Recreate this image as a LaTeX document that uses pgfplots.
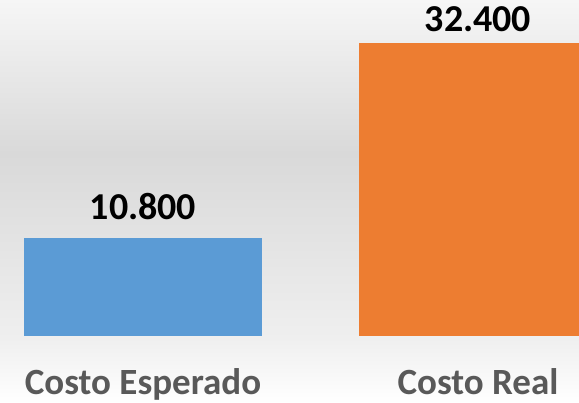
\documentclass[border=0pt]{standalone}
\usepackage{pgfplots}
\pgfplotsset{compat=1.18}
\usepackage{fontspec}
\setmainfont{Carlito}
\definecolor{barblue}{HTML}{5B9BD5}
\definecolor{barorange}{HTML}{ED7D31}
\definecolor{labelgray}{HTML}{595959}
\definecolor{bgA}{HTML}{EFEFEF}
\definecolor{bgB}{HTML}{D9D9D9}
\definecolor{bgC}{HTML}{F6F6F6}
\pgfdeclareverticalshading{bg}{100bp}{color(0bp)=(white); color(25bp)=(white); color(33bp)=(bgA); color(56bp)=(bgB); color(75bp)=(bgC); color(100bp)=(bgC)}
\begin{document}
\begin{tikzpicture}
\shade[shading=bg] (0,0) rectangle (579pt,403pt);
\useasboundingbox (0,0) rectangle (579pt,403pt);
\begin{axis}[
  at={(0,0)}, anchor=south west,
  scale only axis, width=579pt, height=403pt,
  xmin=0, xmax=579, ymin=-7409, ymax=37154,
  axis line style={draw=none},
  major tick length=0pt,
  ytick=\empty,
  xtick={143,478},
  xticklabels={Costo Esperado, Costo Real},
  xticklabel style={anchor=base, yshift=8pt, font=\fontsize{37}{40}\selectfont\bfseries, text=labelgray},
  ybar, bar shift=0pt, bar width=238,
  point meta=explicit symbolic,
  nodes near coords,
  every node near coord/.append style={font=\fontsize{38}{40}\selectfont\bfseries, text=black, anchor=base},
]
\addplot[fill=barblue, draw=none, every node near coord/.append style={yshift=19pt}] coordinates {(143,10800) [10.800]};
\addplot[fill=barorange, draw=none, every node near coord/.append style={yshift=11pt}] coordinates {(478,32400) [32.400]};
\end{axis}
\end{tikzpicture}
\end{document}
